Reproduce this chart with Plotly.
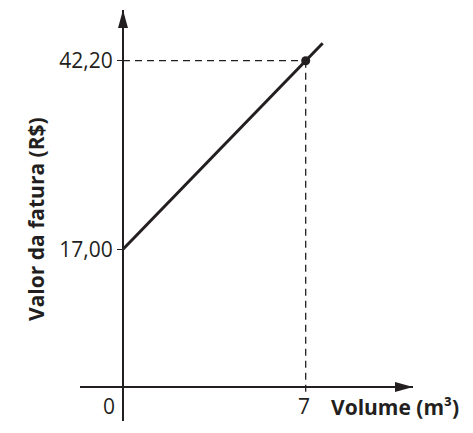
import plotly.graph_objects as go

# ---- data ----
line_x = [0, 7.65]
line_y = [17.0, 44.54]
point_x = [7]
point_y = [42.2]
ytick_vals = [17.0, 42.2]
ytick_text = ["17,00", "42,20"]
xtick_vals = [0, 7]
xtick_text = ["0", "7"]
x_title = "Volume (m³)"
y_title = "Valor da fatura (R$)"

W, H = 473, 433
INK = "#231f20"

# layout geometry (pixels)
ax_x_px = 123      # y axis location
ax_y_px = 387      # x axis location
xdom_px = (80, 413)
ydom_px = (421, 10)
px_per_x = 26.1
px_per_y = 7.484
y_ref_val, y_ref_px = 17.0, 249.3

xr = [(xdom_px[0] - ax_x_px) / px_per_x, (xdom_px[1] - ax_x_px) / px_per_x]
yr = [y_ref_val - (ydom_px[0] - y_ref_px) / px_per_y,
      y_ref_val - (ydom_px[1] - y_ref_px) / px_per_y]
y_dash_end = y_ref_val - (392 - y_ref_px) / px_per_y

fig = go.Figure()

# dashed guides
fig.add_trace(go.Scatter(x=[0, point_x[0]], y=[point_y[0], point_y[0]], mode="lines",
                         line=dict(color=INK, width=1.3, dash="7px,5px"), hoverinfo="skip"))
fig.add_trace(go.Scatter(x=[point_x[0], point_x[0]], y=[point_y[0], y_dash_end], mode="lines",
                         line=dict(color=INK, width=1.3, dash="7px,5px"), hoverinfo="skip"))
# main line
fig.add_trace(go.Scatter(x=line_x, y=line_y, mode="lines",
                         line=dict(color=INK, width=3), hoverinfo="skip"))
# point
fig.add_trace(go.Scatter(x=point_x, y=point_y, mode="markers",
                         marker=dict(color=INK, size=9), hoverinfo="skip"))

tick_font = dict(family="Open Sans", size=21, color=INK)

annotations = []
# x tick labels
annotations.append(dict(x=xtick_vals[0], y=(H - ax_y_px) / H, xref="x", yref="paper",
                        text=xtick_text[0], showarrow=False, xanchor="right", yanchor="top",
                        xshift=-6, yshift=-3, font=tick_font))
annotations.append(dict(x=xtick_vals[1], y=(H - ax_y_px) / H, xref="x", yref="paper",
                        text=xtick_text[1], showarrow=False, xanchor="center", yanchor="top",
                        xshift=-2, yshift=-3, font=tick_font))
# titles
annotations.append(dict(x=329 / W, y=1 - 407 / H, xref="paper", yref="paper",
                        text="<b>" + x_title + "</b>", showarrow=False, xanchor="left", yanchor="middle",
                        font=dict(family="Open Sans", size=21, color=INK)))
annotations.append(dict(x=36 / W, y=1 - 219 / H, xref="paper", yref="paper",
                        text="<b>" + y_title + "</b>", showarrow=False, textangle=-90,
                        xanchor="center", yanchor="middle",
                        font=dict(family="Open Sans", size=21, color=INK)))

def P(px, py):
    return f"{px / W:.5f},{1 - py / H:.5f}"

shapes = [
    # y arrow head
    dict(type="path", xref="paper", yref="paper",
         path=f"M {P(ax_x_px, 10)} L {P(ax_x_px - 5, 28)} L {P(ax_x_px + 5, 28)} Z",
         fillcolor=INK, line=dict(width=0)),
    # x arrow head
    dict(type="path", xref="paper", yref="paper",
         path=f"M {P(413, ax_y_px)} L {P(395, ax_y_px - 5)} L {P(395, ax_y_px + 5)} Z",
         fillcolor=INK, line=dict(width=0)),
]

fig.update_layout(
    width=W, height=H,
    margin=dict(l=0, r=0, t=0, b=0),
    paper_bgcolor="white", plot_bgcolor="white",
    showlegend=False,
    annotations=annotations,
    shapes=shapes,
    xaxis=dict(range=xr, domain=[xdom_px[0] / W, xdom_px[1] / W],
               anchor="free", position=(H - ax_y_px) / H,
               showline=True, linewidth=2, linecolor=INK,
               showgrid=False, zeroline=False, showticklabels=False, ticks=""),
    yaxis=dict(range=yr, domain=[(H - ydom_px[0]) / H, (H - ydom_px[1]) / H],
               anchor="free", position=ax_x_px / W,
               showline=True, linewidth=2, linecolor=INK,
               showgrid=False, zeroline=False,
               tickvals=ytick_vals, ticktext=ytick_text,
               ticks="outside", ticklen=5, tickwidth=1.5, tickcolor=INK,
               tickfont=tick_font),
)

fig.write_html("out.html", config={"displayModeBar": False, "staticPlot": True},
               post_script="document.body.style.margin='0';document.body.style.overflow='hidden';")
